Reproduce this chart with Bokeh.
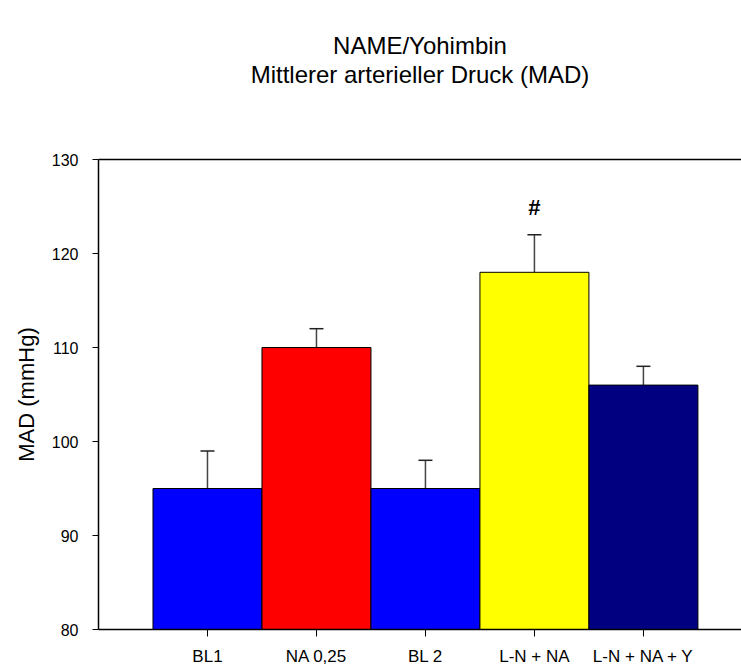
from bokeh.plotting import figure
from bokeh.models import (ColumnDataSource, Range1d, FixedTicker, LinearAxis,
                          Whisker, TeeHead, Label, Title)
from bokeh.embed import file_html
from bokeh.resources import INLINE

categories = ["BL1", "NA 0,25", "BL 2", "L-N + NA", "L-N + NA + Y"]
means = [95, 110, 95, 118, 106]
errors = [4, 2, 3, 4, 2]
colors = ["#0000FF", "#FF0000", "#0000FF", "#FFFF00", "#000080"]
title_lines = ["NAME/Yohimbin", "Mittlerer arterieller Druck (MAD)"]
y_label = "MAD (mmHg)"
y_ticks = [80, 90, 100, 110, 120, 130]
marker_index = 3
marker_text = "#"

xs = list(range(1, len(categories) + 1))
src = ColumnDataSource(dict(
    x=xs, top=means, color=colors,
    upper=[m + e for m, e in zip(means, errors)],
))

FONT = "Liberation Sans"

p = figure(width=741, height=668, output_backend="svg", toolbar_location=None,
           x_range=Range1d(0, 5.9), y_range=Range1d(80, 130),
           min_border_left=98, min_border_right=0, min_border_top=159,
           min_border_bottom=39)
p.outline_line_color = None
p.xgrid.visible = False
p.ygrid.visible = False
p.background_fill_color = "white"
p.border_fill_color = "white"

p.vbar(x="x", top="top", bottom=80, width=1.0, fill_color="color",
       line_color="black", line_width=1, source=src)

w = Whisker(base="x", lower="top", upper="upper", source=src,
            line_color="#444444", line_width=1.5,
            upper_head=TeeHead(size=14, line_color="#222222", line_width=1.5),
            lower_head=None)
p.add_layout(w)

# axes
xa = p.xaxis[0]
xa.ticker = FixedTicker(ticks=xs)
xa.major_label_overrides = {x: c for x, c in zip(xs, categories)}
xa.minor_tick_line_color = None
xa.major_tick_out = 7
xa.major_tick_in = 0
xa.major_label_standoff = 10
xa.major_label_text_font = FONT
xa.major_label_text_font_size = "17px"
xa.major_label_text_color = "black"
xa.axis_line_color = "black"
xa.axis_line_width = 1.5

ya = p.yaxis[0]
ya.ticker = FixedTicker(ticks=y_ticks)
ya.minor_tick_line_color = None
ya.major_tick_out = 6
ya.major_tick_in = 0
ya.major_label_standoff = 14
ya.major_label_text_font = FONT
ya.major_label_text_font_size = "16px"
ya.major_label_text_color = "black"
ya.axis_line_color = "black"
ya.axis_line_width = 1.5
ya.axis_label = y_label
ya.axis_label_text_font = FONT
ya.axis_label_text_font_size = "22px"
ya.axis_label_text_font_style = "normal"
ya.axis_label_text_color = "black"
ya.axis_label_standoff = 10

# top frame line: an axis without ticks or labels
top_axis = LinearAxis(ticker=FixedTicker(ticks=[]), major_tick_line_color=None,
                      minor_tick_line_color=None, major_tick_out=0,
                      major_tick_in=0, minor_tick_out=0,
                      axis_line_color="black", axis_line_width=1.5)
p.add_layout(top_axis, "above")

# blank spacer between the frame and the title block
p.add_layout(Title(text=" ", text_font=FONT, text_font_size="10px",
                   standoff=59), "above")
# title lines (line 2 added first so it sits nearer the frame)
p.add_layout(Title(text=title_lines[1], align="center", text_font=FONT,
                   text_font_size="24px", text_font_style="normal",
                   text_color="black", standoff=0), "above")
p.add_layout(Title(text=title_lines[0], align="center", text_font=FONT,
                   text_font_size="24px", text_font_style="normal",
                   text_color="black", standoff=0), "above")

# significance marker
p.add_layout(Label(x=xs[marker_index], y=means[marker_index] + errors[marker_index] + 2.9,
                   text=marker_text, text_font=FONT, text_font_size="22px",
                   text_font_style="bold", text_align="center",
                   text_baseline="middle", text_color="black"))

open("out.html", "w").write(file_html(p, INLINE))
